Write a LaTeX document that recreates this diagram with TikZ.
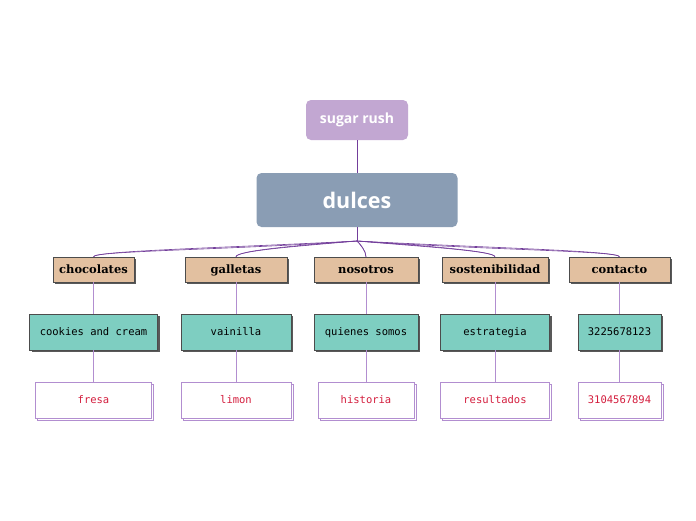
\documentclass[tikz,border=0pt]{standalone}
\usepackage{fontspec}
\setmainfont{DejaVu Serif}
\newfontfamily\headfont{Open Sans}
\newfontfamily\typefont{DejaVu Sans Mono}
\usetikzlibrary{shadows, positioning, calc}
\definecolor{sugarpink}{RGB}{194,167,210}
\definecolor{dulceblue}{RGB}{138,157,180}
\definecolor{caramel}{RGB}{226,192,160}
\definecolor{mint}{RGB}{126,206,193}
\definecolor{berry}{RGB}{212,30,62}
\definecolor{grape}{RGB}{115,62,155}
\definecolor{lilac}{RGB}{178,142,208}

\tikzset{
  rootbox/.style={fill=dulceblue, rounded corners=5pt, text=white,
    minimum width=201pt, minimum height=54pt, font=\headfont\bfseries\fontsize{21.5}{21.5}\selectfont},
  floatbox/.style={fill=sugarpink, rounded corners=5pt, text=white,
    minimum width=102pt, minimum height=40pt, font=\headfont\bfseries\fontsize{14}{14}\selectfont},
  topicbox/.style={draw=black!70, fill=caramel, minimum height=25pt, inner sep=0pt,
    text height=9pt, text depth=1pt, font=\bfseries\fontsize{11.5}{11.5}\selectfont,
    drop shadow={shadow xshift=2pt, shadow yshift=-2pt, opacity=1, fill=black!65}},
  subbox/.style={draw=black!70, fill=mint, minimum height=36pt, inner sep=0pt,
    text height=8pt, text depth=1pt, font=\typefont\fontsize{10.5}{10.5}\selectfont,
    drop shadow={shadow xshift=2pt, shadow yshift=-2pt, opacity=1, fill=black!65}},
  leafbox/.style={draw=lilac, fill=white, text=berry, minimum height=36pt, inner sep=0pt,
    text height=8pt, text depth=1pt, font=\typefont\fontsize{10.5}{10.5}\selectfont,
    copy shadow={shadow xshift=2pt, shadow yshift=-2pt}},
  branch/.style={draw=grape, line width=0.6pt},
  twig/.style={draw=lilac, line width=0.8pt}
}

\begin{document}
\begin{tikzpicture}[x=1pt, y=-1pt]
  \useasboundingbox[fill=white] (0,0) rectangle (696,520);

  % centre and float topic
  \node[floatbox] (sugar) at (357,120) {sugar rush};
  \node[rootbox] (dulces) at (357,200) {dulces};
  \coordinate (hub) at (357,241);

  % main topics
  \node[topicbox, minimum width=81pt]  (choc) at (93.5,269.5) {chocolates};
  \node[topicbox, minimum width=102pt] (gall) at (236,269.5) {galletas};
  \node[topicbox, minimum width=104pt] (nos)  at (366,269.5) {nosotros};
  \node[topicbox, minimum width=106pt] (sost) at (495,269.5) {sostenibilidad};
  \node[topicbox, minimum width=101pt] (cont) at (619.5,269.5) {contacto};

  % subtopics
  \node[subbox, minimum width=128pt] (cook) at (93.5,332) {cookies and cream};
  \node[subbox, minimum width=110pt] (vain) at (236,332) {vainilla};
  \node[subbox, minimum width=104pt] (quie) at (366,332) {quienes somos};
  \node[subbox, minimum width=109pt] (estr) at (495,332) {estrategia};
  \node[subbox, minimum width=83pt]  (tel)  at (619.5,332) {3225678123};

  % leaves
  \node[leafbox, minimum width=116pt] (fres) at (93.5,400) {fresa};
  \node[leafbox, minimum width=110pt] (lim)  at (236,400) {limon};
  \node[leafbox, minimum width=96pt]  (hist) at (366,400) {historia};
  \node[leafbox, minimum width=109pt] (res)  at (495,400) {resultados};
  \node[leafbox, minimum width=83pt]  (cel)  at (619.5,400) {3104567894};

  \draw[branch] (sugar) -- (dulces);
  \draw[branch] (dulces.south) -- (hub);
  \foreach \t/\o/\p/\d in {choc/183/184/130, gall/184/185/60, nos/-40/-48/4,
                           sost/-4/-5/60, cont/-3/-4/130} {
    \draw[branch] (hub) to[out=\o, in=90, out distance=\d pt, in distance=6pt] (\t.north);
    \draw[branch] (hub) to[out=\p, in=90, out distance=\d pt, in distance=6pt] (\t.north);
  }
  \foreach \a/\b in {choc/cook, gall/vain, nos/quie, sost/estr, cont/tel,
                     cook/fres, vain/lim, quie/hist, estr/res, tel/cel}
    \draw[twig] (\a.south) -- (\b.north);
\end{tikzpicture}
\end{document}
